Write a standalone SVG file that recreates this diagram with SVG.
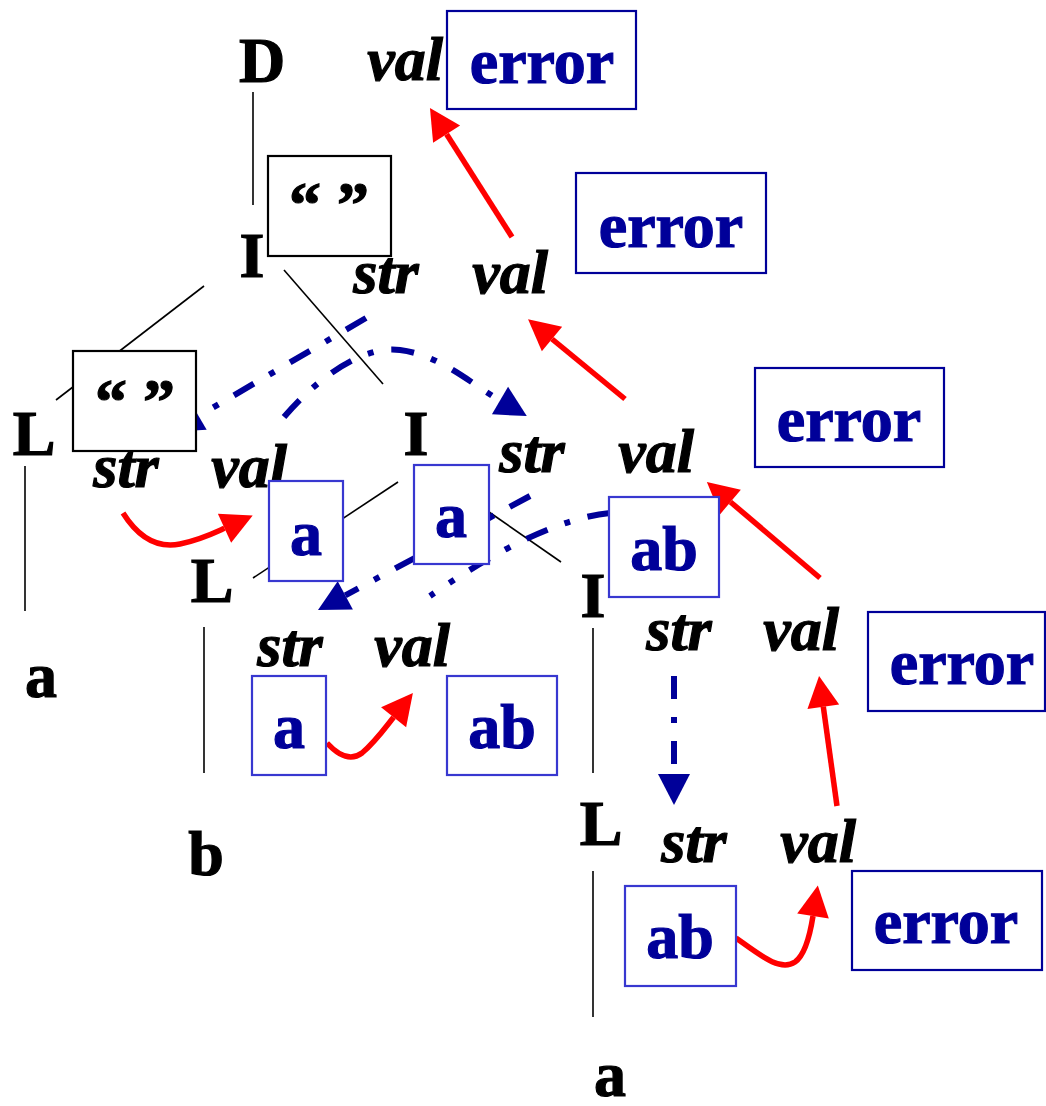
<svg xmlns="http://www.w3.org/2000/svg" width="1046" height="1106" viewBox="0 0 1046 1106">
<style>
.sym{font-family:"Liberation Serif","Times New Roman",serif;font-weight:bold;font-size:64px;fill:#000;stroke:#000;stroke-width:1.2;text-anchor:middle}
.attr{font-family:"Liberation Serif","Times New Roman",serif;font-weight:bold;font-style:italic;font-size:62px;fill:#000;stroke:#000;stroke-width:1.2;text-anchor:middle}
.val{font-family:"Liberation Serif","Times New Roman",serif;font-weight:bold;font-size:64px;fill:#000099;stroke:#000099;stroke-width:1.2;text-anchor:middle}
.qt{font-family:"Liberation Serif","Times New Roman",serif;font-weight:bold;font-size:64px;fill:#000;stroke:#000;stroke-width:1.2;text-anchor:middle}
.ebox{fill:#fff;stroke:#000099;stroke-width:2.2}
.vbox{fill:#fff;stroke:#3838D0;stroke-width:2.2}
.qbox{fill:#fff;stroke:#000;stroke-width:2.2}
.tree{stroke:#000;stroke-width:1.6;fill:none}
.red{stroke:#FF0000;stroke-width:5.5;fill:none;marker-end:url(#ra)}
.blue{stroke:#000099;stroke-width:6;fill:none;stroke-dasharray:23 18 6 18}
.bluea{marker-end:url(#ba)}
</style>
<defs>
<marker id="ra" markerUnits="userSpaceOnUse" markerWidth="34" markerHeight="34" refX="0" refY="16" orient="auto" overflow="visible">
<path d="M0,0 L31,16 L0,32 Z" fill="#FF0000"/>
</marker>
<marker id="ba" markerUnits="userSpaceOnUse" markerWidth="34" markerHeight="34" refX="0" refY="16" orient="auto" overflow="visible">
<path d="M0,0 L31,16 L0,32 Z" fill="#000099"/>
</marker>
</defs>

<g id="tree-edges">
<line class="tree" x1="253" y1="92" x2="253" y2="205"/>
<line class="tree" x1="204" y1="286" x2="56" y2="400"/>
<line class="tree" x1="284" y1="270" x2="383" y2="384"/>
<line class="tree" x1="398" y1="482" x2="253" y2="578"/>
<line class="tree" x1="489" y1="512" x2="561" y2="562"/>
<line class="tree" x1="25" y1="466" x2="25" y2="611"/>
<line class="tree" x1="204" y1="627" x2="204" y2="773"/>
<line class="tree" x1="593" y1="628" x2="593" y2="773"/>
<line class="tree" x1="593" y1="871" x2="593" y2="1017"/>
</g>

<g id="connectors">
<path class="blue bluea" d="M366,318 L198.6,416"/>
<path class="blue bluea" d="M284,417 C320,375 365,345 400,350 C440,355 470,383 500,400.5"/>
<path class="blue bluea" d="M530,496 L345.3,595.3"/>
<path class="blue" d="M610,513 Q540,520 430,596"/>
<path class="blue bluea" d="M674,676 L674,774"/>
<path class="red" d="M512,237 L446.6,134.2"/>
<path class="red" d="M625,399 L552,339"/>
<path class="red" d="M820,578 L730.5,502"/>
<path class="red" d="M837,806 L823.3,706.7"/>
<path class="red" d="M736,938 C760,955 780,972 795,962 C805,955 810,935 813,916"/>
<path class="red" d="M327,743 C338,755 350,762 362,753 C375,742 385,728 393.6,717.2"/>
<path class="red" d="M123,513 C140,540 160,548 180,544 C200,540 212,534 224.5,528.3"/>
</g>

<g id="node-D">
<text class="sym" x="262" y="82">D</text>
<text class="attr" x="405" y="80">val</text>
<rect class="ebox" x="447" y="11" width="189" height="98"/>
<text class="val" x="542" y="83">error</text>
</g>

<g id="node-I-top">
<text class="sym" x="252" y="277">I</text>
<rect class="qbox" x="268" y="156" width="123" height="100"/>
<text class="qt" x="329" y="226">“ ”</text>
<text class="attr" x="386" y="293">str</text>
<text class="attr" x="510" y="293">val</text>
<rect class="ebox" x="576" y="173" width="190" height="100"/>
<text class="val" x="671" y="247">error</text>
</g>

<g id="node-L-left">
<text class="sym" x="34" y="455">L</text>
<text class="attr" x="126" y="487">str</text>
<text class="attr" x="249" y="487">val</text>
<rect class="qbox" x="73" y="351" width="123" height="100"/>
<text class="qt" x="135" y="423">“ ”</text>
<rect class="vbox" x="269" y="481" width="74" height="100"/>
<text class="val" x="306" y="555">a</text>
</g>

<g id="node-a-left">
<text class="sym" x="41" y="697">a</text>
</g>

<g id="node-I-mid">
<text class="sym" x="416" y="455">I</text>
<text class="attr" x="532" y="472">str</text>
<text class="attr" x="656" y="472">val</text>
<rect class="vbox" x="414" y="465" width="75" height="99"/>
<text class="val" x="451" y="537">a</text>
<rect class="ebox" x="755" y="368" width="189" height="99"/>
<text class="val" x="849" y="441">error</text>
</g>

<g id="node-L-mid">
<text class="sym" x="212" y="602">L</text>
<text class="attr" x="290" y="666">str</text>
<text class="attr" x="412" y="666">val</text>
<rect class="vbox" x="252" y="676" width="74" height="99"/>
<text class="val" x="289" y="748">a</text>
<rect class="vbox" x="447" y="676" width="110" height="99"/>
<text class="val" x="502" y="748">ab</text>
</g>

<g id="node-b">
<text class="sym" x="206" y="875">b</text>
</g>

<g id="node-I-right">
<text class="sym" x="593" y="617">I</text>
<rect class="vbox" x="609" y="497" width="110" height="100"/>
<text class="val" x="664" y="570">ab</text>
<text class="attr" x="679" y="650">str</text>
<text class="attr" x="801" y="650">val</text>
<rect class="ebox" x="868" y="612" width="177" height="99"/>
<text class="val" x="962" y="684">error</text>
</g>

<g id="node-L-bottom">
<text class="sym" x="601" y="845">L</text>
<text class="attr" x="694" y="862">str</text>
<text class="attr" x="818" y="862">val</text>
<rect class="vbox" x="625" y="886" width="111" height="100"/>
<text class="val" x="680" y="958">ab</text>
<rect class="ebox" x="852" y="871" width="190" height="99"/>
<text class="val" x="946" y="943">error</text>
</g>

<g id="node-a-bottom">
<text class="sym" x="610" y="1096">a</text>
</g>
</svg>
